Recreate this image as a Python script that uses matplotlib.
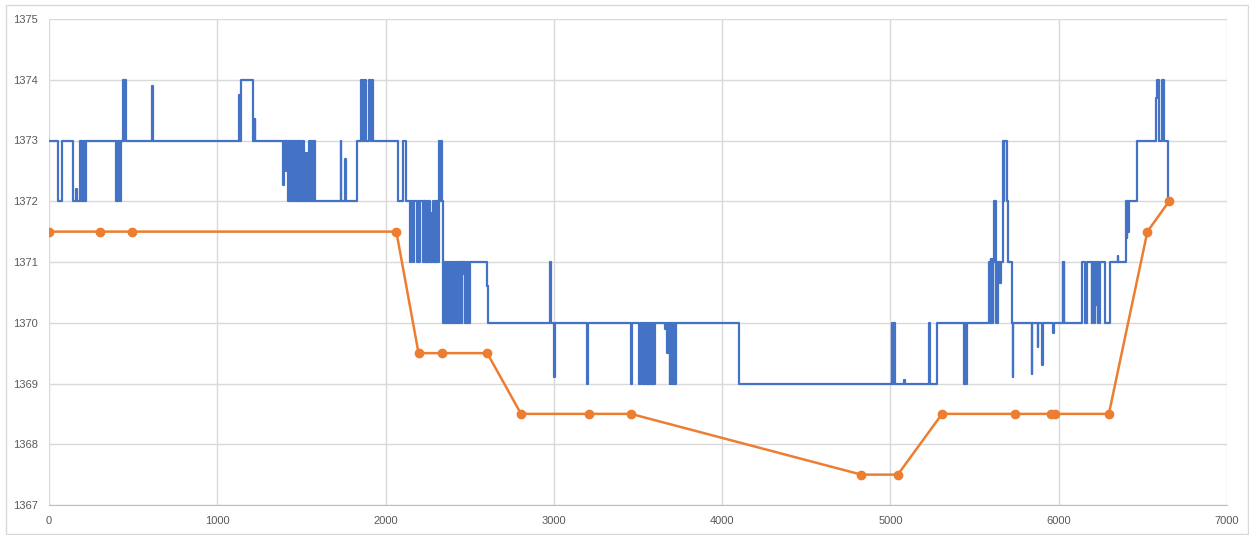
import matplotlib
matplotlib.use("Agg")
import matplotlib.pyplot as plt
from matplotlib.patches import Rectangle

# blue series: (sample index, value held from that sample on)
blue_part1 = [
    (0, 1373), (55, 1372), (75, 1373), (145, 1372), (162, 1372.2), (165, 1372),
    (184, 1373), (188, 1372), (192, 1373), (196, 1372), (200, 1373), (204, 1372),
    (208, 1373), (212, 1372), (218, 1373),
    (398, 1372), (402, 1373), (406, 1372), (410, 1373), (414, 1372), (418, 1373),
    (422, 1372), (426, 1373), (438, 1374), (444, 1373), (448, 1374), (457, 1373),
    (612, 1373.9), (616, 1373), (1131, 1373.75), (1135, 1373), (1138, 1374),
    (1212, 1373), (1222, 1373.35), (1225, 1373),
]
blue_part2 = [
    (1392, 1372.27), (1396, 1373), (1408, 1372.5), (1411, 1373), (1416, 1372.55),
    (1419, 1373), (1422, 1372), (1428, 1373), (1432, 1372), (1436, 1373),
    (1440, 1372), (1444, 1373), (1448, 1372), (1456, 1373), (1460, 1372),
    (1464, 1373), (1468, 1372), (1472, 1373), (1476, 1372), (1480, 1373),
    (1484, 1372), (1488, 1373), (1492, 1372), (1496, 1373), (1500, 1372),
    (1504, 1373), (1508, 1372), (1512, 1373), (1516, 1372), (1521, 1372.6),
    (1524, 1372), (1530, 1372.8), (1533, 1372), (1545, 1373), (1549, 1372),
    (1553, 1373), (1557, 1372), (1561, 1373), (1565, 1372), (1569, 1373),
    (1573, 1372), (1577, 1373), (1582, 1372),
    (1733, 1373), (1737, 1372), (1760, 1372.7), (1764, 1372), (1828, 1373),
    (1852, 1374), (1858, 1373), (1868, 1374), (1872, 1373), (1876, 1374),
    (1884, 1373), (1900, 1374), (1906, 1373.4), (1910, 1374), (1916, 1373),
    (1920, 1374), (1927, 1373),
]
blue_part3 = [
    (2076, 1372), (2105, 1373), (2121, 1372), (2145, 1371), (2150, 1372),
    (2165, 1371), (2170, 1372), (2185, 1371), (2190, 1372), (2200, 1371),
    (2204, 1372), (2224, 1371), (2228, 1372), (2232, 1371), (2236, 1372),
    (2240, 1371), (2244, 1372), (2248, 1371), (2252, 1372), (2256, 1371),
    (2260, 1372), (2264, 1371), (2268, 1371.8), (2272, 1371), (2276, 1371.8),
    (2280, 1371), (2284, 1372), (2288, 1371), (2292, 1372), (2296, 1371),
    (2300, 1372), (2304, 1371), (2308, 1372), (2313, 1371), (2319, 1373),
    (2326, 1372), (2328, 1373), (2333, 1372),
    (2343, 1370), (2348, 1371), (2352, 1370), (2357, 1371), (2361, 1370),
    (2366, 1371), (2370, 1370), (2375, 1371), (2379, 1370), (2384, 1371),
    (2388, 1370), (2393, 1371), (2397, 1370), (2402, 1371), (2406, 1370),
    (2411, 1371), (2415, 1370), (2420, 1371), (2424, 1370), (2429, 1371),
    (2433, 1370), (2438, 1371), (2442, 1370), (2447, 1371), (2452, 1370),
    (2456, 1371), (2466, 1370.8), (2469, 1371), (2472, 1370), (2476, 1371),
    (2480, 1370), (2484, 1371), (2488, 1370), (2492, 1371), (2496, 1370),
    (2502, 1371), (2604, 1370.6), (2608, 1370),
]
blue_part4 = [
    (2977, 1371), (2983, 1370), (3000, 1369.1), (3004, 1370), (3197, 1369),
    (3203, 1370), (3460, 1369), (3466, 1370),
    (3506, 1369), (3510, 1370), (3516, 1369), (3520, 1370), (3530, 1369),
    (3534, 1370), (3538, 1369), (3542, 1370), (3546, 1369), (3550, 1370),
    (3554, 1369), (3558, 1370), (3562, 1369), (3566, 1370), (3570, 1369),
    (3574, 1370), (3578, 1369), (3582, 1370), (3586, 1369), (3590, 1370),
    (3594, 1369), (3600, 1370),
    (3660, 1369.9), (3664, 1370), (3675, 1369.5), (3680, 1370), (3688, 1369),
    (3692, 1370), (3700, 1369), (3704, 1370), (3710, 1369), (3714, 1370),
    (3718, 1369), (3726, 1370), (4100, 1369),
]
blue_part5 = [
    (5007, 1370), (5011, 1369), (5015, 1370), (5019, 1369), (5023, 1370),
    (5027, 1369), (5083, 1369.05), (5087, 1369), (5231, 1370), (5235, 1369),
    (5275, 1370), (5437, 1369), (5441, 1370), (5447, 1369), (5453, 1370),
    (5587, 1371), (5591, 1370), (5595, 1371.05), (5599, 1370), (5603, 1371),
    (5607, 1370), (5611, 1371.05), (5615, 1372), (5619, 1371), (5622, 1372),
    (5627, 1370), (5641, 1371), (5652, 1370.65), (5656, 1371), (5667, 1373),
    (5672, 1372), (5676, 1373), (5690, 1372), (5700, 1371), (5720, 1370),
]
blue_part6 = [
    (5726, 1369.1), (5730, 1370), (5840, 1369.15), (5844, 1370), (5875, 1369.6),
    (5879, 1370), (5903, 1369.3), (5907, 1370), (5968, 1369.83), (5972, 1370),
    (6023, 1371), (6027, 1370), (6029, 1371), (6031, 1370),
    (6136, 1371), (6156, 1370), (6168, 1371), (6196, 1370), (6200, 1371),
    (6204, 1370.5), (6208, 1371), (6212, 1370), (6216, 1371), (6222, 1370.3),
    (6226, 1371), (6232, 1370), (6236, 1371), (6240, 1370), (6245, 1371),
    (6275, 1370), (6304, 1371), (6351, 1371.1), (6355, 1371), (6399, 1372),
    (6403, 1371.4), (6407, 1372), (6411, 1371.5), (6415, 1372), (6463, 1373),
    (6578, 1373.7), (6582, 1374), (6598, 1373), (6611, 1374), (6625, 1373),
    (6647, 1372), (6655, 1372),
]

orange_x = [0, 303, 493, 2064, 2196, 2336, 2604, 2805, 3210, 3458, 4827,
            5044, 5307, 5741, 5956, 5980, 6298, 6527, 6656]
orange_y = [1371.5, 1371.5, 1371.5, 1371.5, 1369.5, 1369.5, 1369.5, 1368.5,
            1368.5, 1368.5, 1367.5, 1367.5, 1368.5, 1368.5, 1368.5, 1368.5,
            1368.5, 1371.5, 1372.0]

x_ticks = list(range(0, 7001, 1000))
y_ticks = list(range(1367, 1376))

blue = blue_part1 + blue_part2 + blue_part3 + blue_part4 + blue_part5 + blue_part6
blue_x = [p[0] for p in blue]
blue_y = [p[1] for p in blue]

plt.rcParams['font.family'] = ['Liberation Sans', 'DejaVu Sans']

fig = plt.figure(figsize=(12.49, 5.35), dpi=100)
fig.patches.append(Rectangle((6 / 1249, 1 / 535), 1 - 7 / 1249, 1 - 6 / 535,
                             transform=fig.transFigure, fill=False,
                             edgecolor='#D9D9D9', linewidth=1.0))
ax = fig.add_axes([49 / 1249, 1 - 505 / 535, 1178 / 1249, 486 / 535])

ax.step(blue_x, blue_y, where='post', color='#4472C4', linewidth=1.6, zorder=3)
ax.plot(orange_x, orange_y, color='#ED7D31', linewidth=1.8, marker='o',
        markersize=6, zorder=4)

ax.set_xlim(0, 7000)
ax.set_ylim(1367, 1375)
ax.set_xticks(x_ticks)
ax.set_yticks(y_ticks)
ax.grid(True, color='#D9D9D9', linewidth=1.0)
ax.set_axisbelow(True)
for side in ['top', 'right', 'left']:
    ax.spines[side].set_visible(False)
ax.spines['bottom'].set_color('#BFBFBF')
ax.tick_params(length=0, labelsize=8, colors='#595959', pad=8)

fig.savefig('out.png', dpi=100)
